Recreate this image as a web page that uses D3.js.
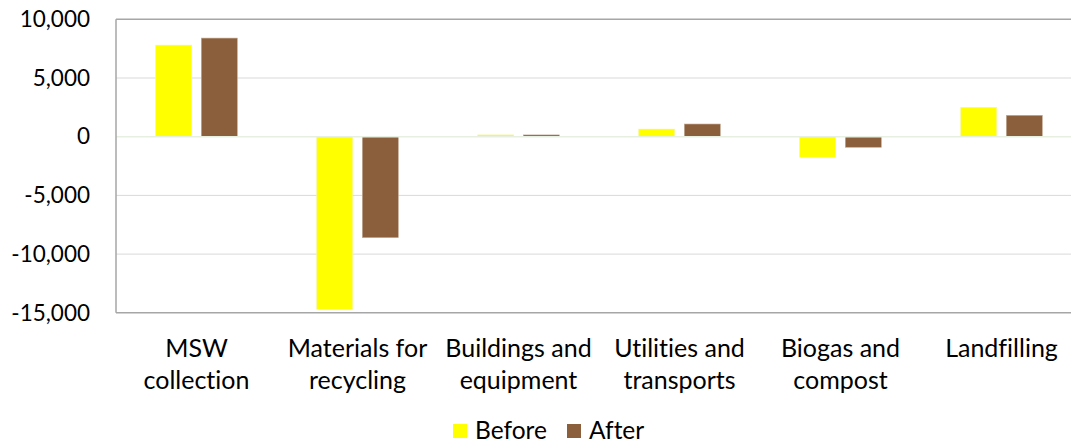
<!DOCTYPE html>
<html>
<head>
<meta charset="utf-8">
<script src="https://cdn.jsdelivr.net/npm/d3@7"></script>
<style>
  html, body { margin: 0; padding: 0; background: #fff; }
  svg { display: block; }
  text { font-family: Lato, "Open Sans", sans-serif; fill: #000; font-variant-ligatures: none; }
</style>
</head>
<body>
<svg id="chart" width="1071" height="444"></svg>
<script>
const categories = [
  ["MSW", "collection"],
  ["Materials for", "recycling"],
  ["Buildings and", "equipment"],
  ["Utilities and", "transports"],
  ["Biogas and", "compost"],
  ["Landfilling"]
];
const seriesNames = ["Before", "After"];
const beforeValues = [7800, -14700, 150, 650, -1750, 2500];
const afterValues = [8400, -8600, 150, 1080, -900, 1820];
const yTicks = [10000, 5000, 0, -5000, -10000, -15000];
const colors = ["#FFFF00", "#8B5E3C"];

(function () {
const svg = d3.select("#chart");
const pLeft = 116, pRight = 1082, pTop = 19.3, pBottom = 312.8;

const x = d3.scaleBand().domain(d3.range(categories.length)).range([pLeft, pRight]).padding(0);
const y = d3.scaleLinear().domain([-15000, 10000]).range([pBottom, pTop]);
const barW = 36, gap = 9.6;

// gridlines
svg.append("g").selectAll("line").data(yTicks.filter(t => t !== 0 && t !== 10000 && t !== -15000))
  .join("line")
  .attr("x1", pLeft).attr("x2", pRight)
  .attr("y1", d => y(d)).attr("y2", d => y(d))
  .attr("stroke", "#d9d9d9").attr("stroke-width", 1);

// bars
const g = svg.append("g");
categories.forEach((c, i) => {
  [beforeValues[i], afterValues[i]].forEach((v, s) => {
    const cx = x(i) + x.bandwidth() / 2;
    const x0 = s === 0 ? cx - gap / 2 - barW : cx + gap / 2;
    g.append("rect")
      .attr("x", x0)
      .attr("width", barW)
      .attr("y", Math.min(y(v), y(0)))
      .attr("height", Math.abs(y(v) - y(0)))
      .attr("fill", colors[s])
      .attr("stroke", s === 0 ? "#f5f5a0" : "#c4ab94")
      .attr("stroke-width", 0.6);
  });
});

// zero line
svg.append("line").attr("x1", pLeft).attr("x2", pRight)
  .attr("y1", y(0)).attr("y2", y(0))
  .attr("stroke", "#e6efe0").attr("stroke-width", 1.5);

// frame
svg.append("line").attr("x1", pLeft).attr("x2", pRight).attr("y1", pTop).attr("y2", pTop)
  .attr("stroke", "#a6a6a6").attr("stroke-width", 1.5);
svg.append("line").attr("x1", pLeft).attr("x2", pRight).attr("y1", pBottom).attr("y2", pBottom)
  .attr("stroke", "#a6a6a6").attr("stroke-width", 1.5);
svg.append("line").attr("x1", pLeft).attr("x2", pLeft).attr("y1", pTop).attr("y2", pBottom)
  .attr("stroke", "#a6a6a6").attr("stroke-width", 1.5);

// y axis labels
const fmt = d3.format(",");
const yAxis = d3.axisLeft(y).tickValues(yTicks).tickSize(0).tickPadding(26)
  .tickFormat(d => fmt(d).replace("\u2212", "-"));
const ya = svg.append("g").attr("transform", `translate(${pLeft},0)`).call(yAxis);
ya.select(".domain").remove();
ya.selectAll("text").style("font-size", "22.5px").style("font-family", "Lato, sans-serif").attr("fill", "#000");

// x labels
const xl = svg.append("g");
categories.forEach((lines, i) => {
  const cx = x(i) + x.bandwidth() / 2;
  const t = xl.append("text")
    .attr("x", cx)
    .attr("y", 357)
    .attr("text-anchor", "middle")
    .style("font-size", "25px");
  lines.forEach((ln, k) => {
    t.append("tspan").attr("x", cx).attr("dy", k === 0 ? 0 : 32).text(ln);
  });
});

// legend
const legendItems = [{ name: seriesNames[0], color: colors[0], lx: 453 }, { name: seriesNames[1], color: colors[1], lx: 567 }];
const lg = svg.append("g");
legendItems.forEach(it => {
  lg.append("rect").attr("x", it.lx).attr("y", 424).attr("width", 14).attr("height", 14).attr("fill", it.color);
  lg.append("text").attr("x", it.lx + 22).attr("y", 439).style("font-size", "24.5px").text(it.name);
});
})();
</script>
</body>
</html>
